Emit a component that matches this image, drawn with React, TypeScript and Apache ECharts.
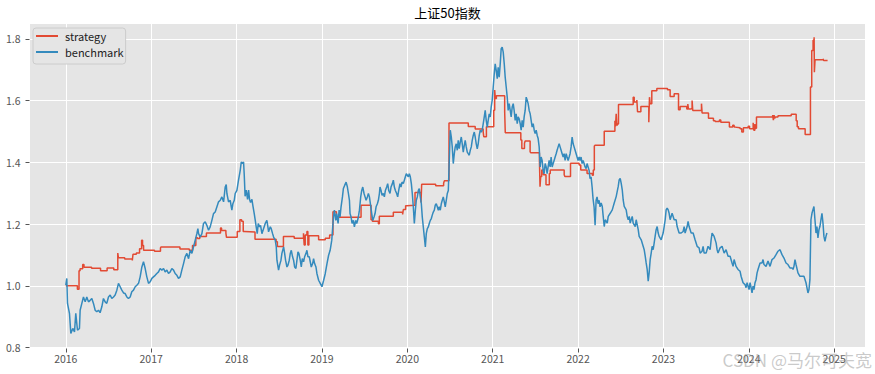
import React, { useEffect, useRef } from "react";
import * as echarts from "echarts";

const chartTitle = "上证50指数";
const seriesNames = ["strategy", "benchmark"];
const xTickYears = [2016, 2017, 2018, 2019, 2020, 2021, 2022, 2023, 2024, 2025];
const yTickValues = [0.8, 1.0, 1.2, 1.4, 1.6, 1.8];
const watermark = "CSDN @马尔可夫宽";

// strategy: step changes [fractional year, value]
const strategy: [number, number][] = [
  [2016.000,1.000],[2016.136,0.989],[2016.155,1.049],[2016.167,1.055],[2016.198,1.069],[2016.213,1.060],[2016.302,1.057],[2016.407,1.049],[2016.484,1.058],[2016.562,1.052],[2016.609,1.106],[2016.616,1.091],[2016.690,1.087],[2016.779,1.082],[2016.787,1.102],[2016.826,1.106],[2016.864,1.120],[2016.888,1.148],[2016.899,1.131],[2016.911,1.115],
  [2017.039,1.112],[2017.109,1.123],[2017.116,1.126],[2017.337,1.119],[2017.446,1.115],[2017.484,1.131],[2017.523,1.156],[2017.543,1.153],[2017.569,1.160],[2017.647,1.171],[2017.812,1.187],[2017.824,1.179],[2017.875,1.171],[2017.882,1.157],
  [2018.008,1.176],[2018.039,1.214],[2018.059,1.209],[2018.078,1.176],[2018.090,1.174],[2018.216,1.151],[2018.463,1.143],[2018.478,1.127],[2018.549,1.160],[2018.675,1.154],[2018.784,1.170],[2018.792,1.132],[2018.804,1.165],[2018.824,1.176],[2018.835,1.132],[2018.847,1.162],[2018.961,1.149],
  [2019.039,1.154],[2019.090,1.165],[2019.129,1.240],[2019.169,1.222],[2019.458,1.261],[2019.575,1.214],[2019.591,1.209],[2019.661,1.201],[2019.672,1.225],[2019.836,1.238],[2019.945,1.231],[2019.953,1.247],[2019.980,1.259],[2019.992,1.261],
  [2020.090,1.302],[2020.160,1.270],[2020.168,1.329],[2020.332,1.324],[2020.425,1.332],[2020.433,1.340],[2020.488,1.527],[2020.714,1.516],[2020.795,1.508],[2020.888,1.499],[2020.895,1.483],[2020.926,1.515],
  [2021.012,1.569],[2021.023,1.634],[2021.031,1.607],[2021.043,1.616],[2021.140,1.564],[2021.147,1.496],[2021.329,1.472],[2021.341,1.445],[2021.372,1.462],[2021.380,1.469],[2021.438,1.434],[2021.446,1.431],[2021.547,1.408],[2021.554,1.321],[2021.562,1.354],[2021.574,1.375],[2021.593,1.360],[2021.624,1.327],[2021.663,1.364],[2021.674,1.375],[2021.837,1.360],[2021.845,1.354],[2021.911,1.397],
  [2022.012,1.391],[2022.031,1.375],[2022.105,1.364],[2022.167,1.358],[2022.178,1.375],[2022.190,1.453],[2022.198,1.455],[2022.306,1.501],[2022.431,1.535],[2022.438,1.516],[2022.446,1.557],[2022.454,1.519],[2022.462,1.524],[2022.473,1.587],[2022.645,1.611],[2022.657,1.595],[2022.688,1.602],[2022.696,1.564],[2022.735,1.581],[2022.813,1.579],[2022.828,1.530],[2022.836,1.611],[2022.844,1.590],[2022.863,1.632],[2022.922,1.639],
  [2023.047,1.635],[2023.078,1.613],[2023.125,1.622],[2023.176,1.570],[2023.195,1.581],[2023.273,1.573],[2023.285,1.589],[2023.292,1.573],[2023.324,1.575],[2023.335,1.600],[2023.343,1.568],[2023.445,1.590],[2023.452,1.560],[2023.527,1.543],[2023.585,1.535],[2023.605,1.532],[2023.655,1.537],[2023.671,1.530],[2023.772,1.514],[2023.811,1.520],[2023.827,1.514],[2023.839,1.512],[2023.897,1.509],[2023.917,1.498],[2023.936,1.512],[2023.992,1.517],
  [2024.008,1.509],[2024.050,1.528],[2024.058,1.504],[2024.070,1.524],[2024.078,1.510],[2024.089,1.547],[2024.279,1.553],[2024.287,1.537],[2024.295,1.553],[2024.302,1.542],[2024.310,1.547],[2024.341,1.551],[2024.496,1.556],[2024.554,1.535],[2024.566,1.515],[2024.581,1.509],[2024.659,1.490],[2024.721,1.644],[2024.736,1.762],[2024.752,1.795],[2024.764,1.805],[2024.767,1.692],[2024.775,1.732],[2024.868,1.735],[2024.876,1.730],[2024.922,1.730],
];

const bench2016: [number, number][] = [
  [2016.000,1.002],[2016.012,1.024],[2016.020,0.943],[2016.043,0.911],[2016.059,0.846],[2016.082,0.862],[2016.102,0.851],[2016.117,0.911],[2016.137,0.856],[2016.160,0.862],[2016.168,0.921],[2016.188,0.943],[2016.207,0.964],[2016.227,0.948],[2016.246,0.964],[2016.266,0.948],[2016.285,0.953],[2016.305,0.959],[2016.324,0.943],[2016.344,0.921],[2016.363,0.916],[2016.383,0.921],[2016.402,0.913],[2016.422,0.932],[2016.441,0.959],[2016.461,0.948],[2016.480,0.943],[2016.500,0.964],[2016.520,0.970],[2016.539,0.959],[2016.559,0.964],[2016.578,0.970],[2016.598,0.986],[2016.617,1.008],[2016.637,0.997],[2016.656,0.986],[2016.676,0.977],[2016.695,0.975],[2016.715,0.964],[2016.734,0.959],[2016.754,0.964],[2016.773,0.981],[2016.793,0.986],[2016.813,0.997],[2016.832,1.002],[2016.852,1.008],[2016.871,1.029],[2016.891,1.061],[2016.910,1.078],[2016.930,1.056],[2016.949,1.029],[2016.969,1.008],[2016.988,1.013],
];
const bench2017: [number, number][] = [
  [2017.008,1.024],[2017.027,1.029],[2017.047,1.034],[2017.066,1.040],[2017.086,1.045],[2017.105,1.056],[2017.125,1.051],[2017.145,1.056],[2017.164,1.045],[2017.184,1.051],[2017.203,1.040],[2017.223,1.045],[2017.242,1.056],[2017.262,1.051],[2017.281,1.040],[2017.301,1.034],[2017.320,1.024],[2017.340,1.029],[2017.359,1.051],[2017.379,1.072],[2017.398,1.094],[2017.418,1.105],[2017.438,1.088],[2017.457,1.115],[2017.477,1.105],[2017.496,1.126],[2017.516,1.148],[2017.535,1.169],[2017.547,1.185],[2017.555,1.169],[2017.574,1.158],[2017.594,1.169],[2017.613,1.202],[2017.633,1.207],[2017.652,1.196],[2017.672,1.180],[2017.691,1.191],[2017.711,1.212],[2017.730,1.234],[2017.750,1.239],[2017.770,1.256],[2017.789,1.272],[2017.809,1.277],[2017.828,1.288],[2017.848,1.272],[2017.867,1.320],[2017.879,1.328],[2017.887,1.299],[2017.906,1.272],[2017.926,1.277],[2017.938,1.256],[2017.945,1.245],[2017.957,1.266],[2017.973,1.277],[2017.984,1.299],
];
const bench2018: [number, number][] = [
  [2018.004,1.309],[2018.023,1.342],[2018.043,1.374],[2018.055,1.401],[2018.070,1.396],[2018.082,1.401],[2018.090,1.360],[2018.100,1.290],[2018.113,1.310],[2018.129,1.280],[2018.141,1.310],[2018.152,1.280],[2018.164,1.270],[2018.180,1.280],[2018.191,1.260],[2018.207,1.234],[2018.219,1.212],[2018.230,1.191],[2018.242,1.169],[2018.254,1.202],[2018.270,1.191],[2018.281,1.196],[2018.297,1.169],[2018.316,1.185],[2018.336,1.202],[2018.355,1.212],[2018.367,1.191],[2018.375,1.175],[2018.395,1.191],[2018.406,1.185],[2018.422,1.169],[2018.434,1.158],[2018.453,1.148],[2018.465,1.126],[2018.473,1.083],[2018.492,1.051],[2018.504,1.067],[2018.520,1.083],[2018.531,1.105],[2018.551,1.126],[2018.563,1.105],[2018.574,1.083],[2018.590,1.061],[2018.602,1.067],[2018.617,1.083],[2018.629,1.105],[2018.641,1.115],[2018.656,1.094],[2018.668,1.083],[2018.680,1.061],[2018.695,1.056],[2018.707,1.083],[2018.719,1.110],[2018.730,1.105],[2018.746,1.083],[2018.758,1.061],[2018.770,1.088],[2018.785,1.078],[2018.797,1.094],[2018.813,1.105],[2018.824,1.115],[2018.836,1.094],[2018.852,1.094],[2018.863,1.078],[2018.875,1.061],[2018.891,1.072],[2018.902,1.088],[2018.914,1.072],[2018.930,1.061],[2018.941,1.040],[2018.961,1.018],[2018.980,1.008],
];
const bench2019: [number, number][] = [
  [2019.000,0.997],[2019.020,1.018],[2019.039,1.040],[2019.059,1.072],[2019.078,1.099],[2019.096,1.115],[2019.115,1.148],[2019.135,1.223],[2019.146,1.245],[2019.162,1.212],[2019.173,1.234],[2019.189,1.202],[2019.201,1.245],[2019.212,1.223],[2019.224,1.256],[2019.240,1.288],[2019.251,1.315],[2019.267,1.326],[2019.283,1.336],[2019.298,1.320],[2019.310,1.299],[2019.322,1.277],[2019.329,1.234],[2019.341,1.223],[2019.353,1.202],[2019.368,1.212],[2019.380,1.191],[2019.396,1.212],[2019.407,1.202],[2019.423,1.218],[2019.439,1.245],[2019.454,1.288],[2019.466,1.309],[2019.478,1.320],[2019.493,1.299],[2019.505,1.288],[2019.517,1.277],[2019.532,1.288],[2019.544,1.299],[2019.556,1.288],[2019.567,1.266],[2019.583,1.234],[2019.595,1.212],[2019.610,1.223],[2019.622,1.234],[2019.634,1.256],[2019.649,1.266],[2019.661,1.277],[2019.673,1.299],[2019.680,1.320],[2019.692,1.309],[2019.704,1.293],[2019.719,1.299],[2019.731,1.288],[2019.743,1.309],[2019.758,1.320],[2019.770,1.331],[2019.782,1.309],[2019.797,1.299],[2019.809,1.320],[2019.825,1.331],[2019.836,1.342],[2019.848,1.320],[2019.860,1.309],[2019.875,1.299],[2019.887,1.288],[2019.899,1.309],[2019.914,1.331],[2019.926,1.320],[2019.938,1.336],[2019.953,1.331],[2019.965,1.342],[2019.977,1.353],[2019.988,1.363],
];
const bench2020: [number, number][] = [
  [2020.000,1.358],[2020.012,1.353],[2020.023,1.363],[2020.035,1.353],[2020.047,1.331],[2020.058,1.299],[2020.070,1.256],[2020.082,1.202],[2020.094,1.245],[2020.105,1.277],[2020.117,1.288],[2020.129,1.309],[2020.140,1.315],[2020.152,1.288],[2020.164,1.266],[2020.175,1.223],[2020.187,1.191],[2020.199,1.158],[2020.211,1.126],[2020.222,1.169],[2020.234,1.185],[2020.246,1.191],[2020.257,1.202],[2020.269,1.212],[2020.281,1.218],[2020.292,1.229],[2020.304,1.239],[2020.316,1.245],[2020.327,1.261],[2020.339,1.266],[2020.351,1.256],[2020.363,1.245],[2020.374,1.256],[2020.386,1.245],[2020.398,1.266],[2020.409,1.277],[2020.421,1.288],[2020.433,1.272],[2020.444,1.256],[2020.456,1.277],[2020.468,1.299],[2020.480,1.309],[2020.491,1.406],[2020.503,1.504],[2020.515,1.482],[2020.526,1.450],[2020.538,1.396],[2020.550,1.428],[2020.561,1.450],[2020.573,1.460],[2020.585,1.439],[2020.596,1.471],[2020.608,1.444],[2020.620,1.466],[2020.632,1.482],[2020.643,1.460],[2020.655,1.433],[2020.667,1.455],[2020.678,1.471],[2020.690,1.450],[2020.702,1.433],[2020.713,1.428],[2020.725,1.423],[2020.737,1.439],[2020.749,1.450],[2020.760,1.471],[2020.772,1.487],[2020.784,1.498],[2020.795,1.482],[2020.807,1.460],[2020.819,1.444],[2020.830,1.460],[2020.842,1.487],[2020.854,1.504],[2020.865,1.498],[2020.877,1.504],[2020.889,1.525],[2020.901,1.547],[2020.912,1.568],[2020.924,1.536],[2020.936,1.514],[2020.947,1.536],[2020.959,1.557],[2020.971,1.547],[2020.982,1.579],[2020.994,1.601],
];
const bench2021: [number, number][] = [
  [2021.006,1.644],[2021.018,1.687],[2021.029,1.719],[2021.041,1.698],[2021.053,1.671],[2021.064,1.708],[2021.076,1.676],[2021.088,1.719],[2021.099,1.768],[2021.111,1.773],[2021.123,1.757],[2021.135,1.719],[2021.146,1.676],[2021.158,1.644],[2021.170,1.611],[2021.181,1.568],[2021.193,1.590],[2021.205,1.568],[2021.216,1.547],[2021.228,1.579],[2021.240,1.590],[2021.251,1.568],[2021.263,1.536],[2021.275,1.557],[2021.287,1.525],[2021.298,1.547],[2021.310,1.541],[2021.322,1.525],[2021.333,1.504],[2021.345,1.536],[2021.357,1.514],[2021.368,1.547],[2021.380,1.568],[2021.392,1.611],[2021.404,1.601],[2021.415,1.590],[2021.427,1.568],[2021.439,1.557],[2021.450,1.536],[2021.462,1.514],[2021.474,1.525],[2021.486,1.504],[2021.497,1.493],[2021.509,1.504],[2021.521,1.487],[2021.532,1.477],[2021.544,1.450],[2021.556,1.385],[2021.567,1.417],[2021.579,1.406],[2021.591,1.374],[2021.602,1.363],[2021.614,1.396],[2021.626,1.385],[2021.637,1.363],[2021.649,1.385],[2021.661,1.406],[2021.673,1.385],[2021.684,1.417],[2021.696,1.385],[2021.708,1.396],[2021.719,1.406],[2021.731,1.417],[2021.743,1.428],[2021.754,1.439],[2021.766,1.450],[2021.778,1.460],[2021.789,1.450],[2021.801,1.439],[2021.813,1.428],[2021.825,1.417],[2021.836,1.428],[2021.848,1.406],[2021.860,1.428],[2021.871,1.417],[2021.883,1.406],[2021.895,1.417],[2021.906,1.428],[2021.918,1.450],[2021.930,1.482],[2021.942,1.460],[2021.953,1.450],[2021.965,1.439],[2021.977,1.428],[2021.988,1.417],
];
const bench2022: [number, number][] = [
  [2022.000,1.406],[2022.012,1.417],[2022.023,1.406],[2022.035,1.417],[2022.047,1.396],[2022.058,1.406],[2022.070,1.396],[2022.082,1.385],[2022.094,1.380],[2022.105,1.396],[2022.117,1.385],[2022.129,1.374],[2022.140,1.347],[2022.152,1.353],[2022.164,1.320],[2022.175,1.282],[2022.187,1.256],[2022.199,1.196],[2022.211,1.277],[2022.222,1.288],[2022.234,1.266],[2022.246,1.277],[2022.257,1.256],[2022.270,1.268],[2022.283,1.257],[2022.294,1.225],[2022.306,1.192],[2022.318,1.214],[2022.341,1.203],[2022.353,1.225],[2022.376,1.235],[2022.400,1.246],[2022.423,1.268],[2022.446,1.289],[2022.470,1.322],[2022.481,1.343],[2022.493,1.348],[2022.505,1.332],[2022.517,1.311],[2022.528,1.278],[2022.540,1.257],[2022.563,1.246],[2022.575,1.225],[2022.587,1.214],[2022.599,1.225],[2022.610,1.203],[2022.634,1.225],[2022.645,1.203],[2022.669,1.192],[2022.680,1.214],[2022.704,1.182],[2022.715,1.160],[2022.739,1.149],[2022.762,1.128],[2022.774,1.117],[2022.786,1.096],[2022.797,1.074],[2022.809,1.053],[2022.821,1.015],[2022.832,1.042],[2022.844,1.085],[2022.856,1.106],[2022.867,1.128],[2022.879,1.117],[2022.891,1.139],[2022.902,1.160],[2022.914,1.182],[2022.926,1.192],[2022.938,1.171],[2022.949,1.160],[2022.973,1.149],[2022.996,1.171],
];
const bench2023: [number, number][] = [
  [2023.008,1.192],[2023.020,1.214],[2023.031,1.246],[2023.043,1.252],[2023.055,1.246],[2023.066,1.235],[2023.078,1.214],[2023.101,1.235],[2023.125,1.214],[2023.148,1.214],[2023.160,1.192],[2023.183,1.171],[2023.207,1.171],[2023.230,1.176],[2023.242,1.192],[2023.253,1.171],[2023.277,1.192],[2023.288,1.209],[2023.300,1.192],[2023.324,1.171],[2023.347,1.171],[2023.370,1.149],[2023.394,1.128],[2023.417,1.123],[2023.429,1.106],[2023.452,1.112],[2023.464,1.128],[2023.476,1.106],[2023.499,1.106],[2023.522,1.128],[2023.546,1.117],[2023.558,1.149],[2023.569,1.171],[2023.593,1.160],[2023.616,1.139],[2023.628,1.117],[2023.639,1.106],[2023.663,1.123],[2023.686,1.128],[2023.710,1.106],[2023.733,1.117],[2023.756,1.096],[2023.780,1.096],[2023.803,1.074],[2023.815,1.063],[2023.827,1.085],[2023.850,1.063],[2023.873,1.053],[2023.897,1.047],[2023.909,1.031],[2023.932,1.010],[2023.955,1.004],[2023.967,0.994],[2023.979,1.010],
];
const bench2024: [number, number][] = [
  [2024.002,0.988],[2024.014,1.010],[2024.026,0.994],[2024.037,0.977],[2024.049,0.999],[2024.060,0.988],[2024.072,1.010],[2024.084,1.020],[2024.096,1.042],[2024.107,1.053],[2024.131,1.074],[2024.154,1.074],[2024.166,1.085],[2024.177,1.069],[2024.201,1.063],[2024.224,1.080],[2024.248,1.063],[2024.271,1.085],[2024.294,1.090],[2024.318,1.101],[2024.341,1.112],[2024.365,1.117],[2024.388,1.101],[2024.411,1.090],[2024.435,1.074],[2024.458,1.069],[2024.481,1.058],[2024.505,1.058],[2024.517,1.053],[2024.528,1.063],[2024.540,1.085],[2024.552,1.069],[2024.575,1.042],[2024.598,1.031],[2024.622,1.031],[2024.645,1.031],[2024.669,1.010],[2024.680,0.994],[2024.692,0.977],[2024.704,0.988],[2024.715,1.020],[2024.727,1.214],[2024.739,1.235],[2024.750,1.246],[2024.762,1.257],[2024.774,1.214],[2024.786,1.171],[2024.797,1.192],[2024.809,1.155],[2024.821,1.182],[2024.832,1.192],[2024.844,1.214],[2024.856,1.235],[2024.868,1.203],[2024.879,1.160],[2024.891,1.144],[2024.903,1.160],[2024.914,1.171],
];

const benchmark: [number, number][] = [
  ...bench2016, ...bench2017, ...bench2018, ...bench2019, ...bench2020,
  ...bench2021, ...bench2022, ...bench2023, ...bench2024,
];

const uiFont = "'Noto Sans CJK SC', 'Noto Sans', sans-serif";

export default function App() {
  const ref = useRef<HTMLDivElement>(null);
  useEffect(() => {
    if (!ref.current) return;
    const chart = echarts.init(ref.current, null, { renderer: "svg" });
    chart.setOption({
      animation: false,
      backgroundColor: "#ffffff",
      graphic: [
        {
          type: "text",
          x: 447.5,
          y: 12,
          silent: true,
          style: {
            text: chartTitle,
            fill: "#000000",
            font: `13px ${uiFont}`,
            textAlign: "center",
            textVerticalAlign: "middle",
          },
        },
        {
          type: "text",
          x: 872,
          y: 359,
          silent: true,
          z: 100,
          style: {
            text: watermark,
            fill: "rgba(150,150,150,0.5)",
            font: `17px ${uiFont}`,
            textAlign: "right",
            textVerticalAlign: "middle",
          },
        },
      ],
      legend: {
        orient: "vertical",
        left: 33,
        top: 28,
        data: seriesNames,
        icon: "rect",
        itemWidth: 22,
        itemHeight: 2,
        itemGap: 0,
        padding: [0, 2, 4, 3],
        backgroundColor: "#E5E5E5",
        borderColor: "#CCCCCC",
        borderWidth: 1,
        borderRadius: 3,
        textStyle: { fontSize: 11, color: "#222222", fontFamily: uiFont, lineHeight: 16, padding: [0, 0, 0, 2] },
      },
      grid: {
        left: 29.5,
        right: 10,
        top: 24,
        bottom: 25.5,
        show: true,
        backgroundColor: "#E5E5E5",
        borderWidth: 0,
        containLabel: false,
      },
      xAxis: {
        type: "value",
        min: 2015.575,
        max: 2025.36,
        axisLine: { show: true, lineStyle: { color: "#ffffff", width: 1 } },
        axisTick: { show: true, length: 4, lineStyle: { color: "#555555", width: 1 }, customValues: xTickYears },
        axisLabel: {
          customValues: xTickYears,
          formatter: (v: number) => String(Math.round(v)),
          color: "#555555",
          fontSize: 10.5,
          fontFamily: uiFont,
          margin: 5,
        },
        splitLine: { show: true, lineStyle: { color: "#ffffff", width: 1 } },
      },
      yAxis: {
        type: "value",
        min: 0.797,
        max: 1.848,
        axisLine: { show: true, lineStyle: { color: "#ffffff", width: 1 } },
        axisTick: { show: true, length: 4, lineStyle: { color: "#555555", width: 1 }, customValues: yTickValues },
        axisLabel: {
          customValues: yTickValues,
          formatter: (v: number) => v.toFixed(1),
          color: "#555555",
          fontSize: 10.5,
          fontFamily: uiFont,
          margin: 9,
        },
        splitLine: { show: true, lineStyle: { color: "#ffffff", width: 1 } },
      },
      series: [
        {
          name: seriesNames[0],
          type: "line",
          data: strategy,
          step: "end",
          symbol: "none",
          showSymbol: false,
          silent: true,
          lineStyle: { color: "#E24A33", width: 1.5 },
          itemStyle: { color: "#E24A33" },
        },
        {
          name: seriesNames[1],
          type: "line",
          data: benchmark,
          symbol: "none",
          showSymbol: false,
          silent: true,
          lineStyle: { color: "#348ABD", width: 1.5 },
          itemStyle: { color: "#348ABD" },
        },
      ],
    });
    return () => chart.dispose();
  }, []);
  return (
    <div
      ref={ref}
      style={{ position: "absolute", left: 0, top: 0, width: 875, height: 374, background: "#ffffff" }}
    />
  );
}
